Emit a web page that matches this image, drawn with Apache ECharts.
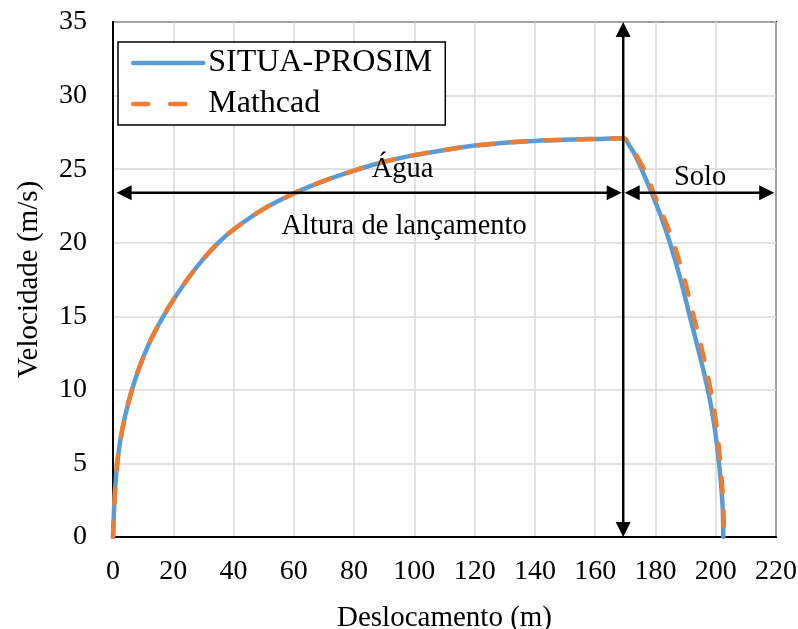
<!DOCTYPE html>
<html>
<head>
<meta charset="utf-8">
<script src="https://cdn.jsdelivr.net/npm/echarts@6/dist/echarts.min.js"></script>
<style>
html,body{margin:0;padding:0;background:#fff}
#chart{width:798px;height:629px}
</style>
</head>
<body>
<div id="chart"></div>
<script>
// Displacement (m) and velocity (m/s) – SITUA-PROSIM simulation
const distSitua = [0, 0.5, 1.2, 2.3, 4, 6, 8, 10, 13, 16.7, 20, 25, 30, 35, 40, 50, 60, 70, 80, 90, 100, 110, 120, 130, 140, 150, 160, 169.3,
                   171.5, 173.5, 175.4, 178.7, 181.8, 184.8, 188.2, 191.4, 194.5, 197.4, 199.6, 201.1, 202.0, 202.4, 202.5];
const velSitua  = [0, 2.5, 4.6, 6.4, 8.2, 9.8, 11.1, 12.2, 13.6, 15.0, 16.1, 17.6, 18.9, 20.0, 20.9, 22.3, 23.35, 24.2, 24.9, 25.5, 25.95, 26.3, 26.6, 26.8, 26.92, 27.0, 27.05, 27.1,
                   26.55, 25.85, 25.0, 23.4, 21.8, 20.0, 17.6, 15.0, 12.5, 10.0, 7.5, 5.0, 3.0, 1.5, 0];

// Displacement (m) and velocity (m/s) – Mathcad solution
const distMathcad = [0, 0.5, 1.2, 2.3, 4, 6, 8, 10, 13, 16.7, 20, 25, 30, 35, 40, 50, 60, 70, 80, 90, 100, 110, 120, 130, 140, 150, 160, 169.3,
                     172, 174.2, 176.5, 179.2, 182.6, 186, 189.5, 192.7, 195.7, 198.3, 200.3, 201.5, 202.3, 202.6, 202.7];
const velMathcad  = [0, 2.5, 4.6, 6.4, 8.2, 9.8, 11.1, 12.2, 13.6, 15.0, 16.1, 17.6, 18.9, 20.0, 20.9, 22.3, 23.35, 24.2, 24.9, 25.5, 25.95, 26.3, 26.6, 26.8, 26.92, 27.0, 27.05, 27.1,
                     26.45, 25.75, 24.85, 23.5, 21.8, 20.0, 17.6, 15.0, 12.5, 10.0, 7.5, 5.0, 3.0, 1.5, 0];

const seriesNames = ['SITUA-PROSIM', 'Mathcad'];

// Double-headed dimension arrows: [x1, y1, x2, y2] in data units
const arrows = [
  [1.2, 23.4, 168.8, 23.4],
  [169.8, 23.4, 219.4, 23.4],
  [169.3, 0, 169.3, 35]
];

// Annotations: [text, x, y]
const notes = [
  ['Água', 96.1, 24.95],
  ['Altura de lançamento', 96.6, 21.1],
  ['Solo', 194.8, 24.45]
];

const FONT = '"Liberation Serif", "Times New Roman", serif';
const BLUE = '#5B9BD5';
const ORANGE = '#ED7D31';

const zip = (xs, ys) => xs.map((x, i) => [x, ys[i]]);

const chart = echarts.init(document.getElementById('chart'), null, {renderer: 'canvas'});

chart.setOption({
  backgroundColor: '#fff',
  animation: false,
  grid: {
    left: 113, right: 22, top: 22, bottom: 92,
    containLabel: false, outerBoundsMode: 'none',
    show: true, borderColor: '#000', borderWidth: 2, backgroundColor: 'transparent'
  },
  legend: {
    data: [
      {name: seriesNames[0], lineStyle: {color: BLUE, width: 4.5, type: 'solid', cap: 'round'}},
      {name: seriesNames[1], lineStyle: {color: ORANGE, width: 4.5, type: [15, 22], cap: 'round'}}
    ],
    orient: 'vertical',
    left: 118, top: 42,
    backgroundColor: '#fff',
    borderColor: '#000', borderWidth: 1.5,
    padding: [5, 13, 5, 13],
    itemWidth: 70, itemHeight: 10, itemGap: 9,
    itemStyle: {opacity: 0},
    textStyle: {fontFamily: FONT, fontSize: 32, color: '#000'}
  },
  xAxis: {
    type: 'value', min: 0, max: 220, interval: 20,
    name: 'Deslocamento (m)', nameLocation: 'middle', nameGap: 67,
    nameTextStyle: {fontFamily: FONT, fontSize: 29, color: '#000'},
    axisLine: {lineStyle: {color: '#000', width: 2}},
    axisTick: {show: false},
    axisLabel: {fontFamily: FONT, fontSize: 28, color: '#000', margin: 21},
    splitLine: {lineStyle: {color: '#d9d9d9', width: 1.5}}
  },
  yAxis: {
    type: 'value', min: 0, max: 35, interval: 5,
    name: 'Velocidade (m/s)', nameLocation: 'middle', nameGap: 69,
    nameTextStyle: {fontFamily: FONT, fontSize: 29, color: '#000'},
    axisLine: {lineStyle: {color: '#000', width: 2}},
    axisTick: {show: false},
    axisLabel: {fontFamily: FONT, fontSize: 28, color: '#000', margin: 26},
    splitLine: {lineStyle: {color: '#d9d9d9', width: 1.5}}
  },
  series: [
    {
      name: seriesNames[0], type: 'line', data: zip(distSitua, velSitua),
      symbol: 'none', smooth: 0.35,
      lineStyle: {color: BLUE, width: 4.5, cap: 'round', join: 'round'},
      itemStyle: {color: BLUE}, z: 3
    },
    {
      name: seriesNames[1], type: 'line', data: zip(distMathcad, velMathcad),
      symbol: 'none', smooth: 0.35,
      lineStyle: {color: ORANGE, width: 4.5, type: [15, 18.5], cap: 'round', join: 'round'},
      itemStyle: {color: ORANGE}, z: 4
    },
    {
      type: 'custom', name: 'arrows', silent: true, clip: false, z: 5,
      data: arrows,
      encode: {x: [0, 2], y: [1, 3]},
      renderItem: function (params, api) {
        const a = api.coord([api.value(0), api.value(1)]);
        const b = api.coord([api.value(2), api.value(3)]);
        const dx = b[0] - a[0], dy = b[1] - a[1];
        const len = Math.sqrt(dx * dx + dy * dy);
        const ux = dx / len, uy = dy / len;
        const nx = -uy, ny = ux;
        const L = 15, W = 7.5;
        const head = (tip, s) => [
          tip,
          [tip[0] - s * ux * L + nx * W, tip[1] - s * uy * L + ny * W],
          [tip[0] - s * ux * L - nx * W, tip[1] - s * uy * L - ny * W]
        ];
        return {
          type: 'group',
          children: [
            {type: 'line', shape: {x1: a[0] + ux * 8, y1: a[1] + uy * 8, x2: b[0] - ux * 8, y2: b[1] - uy * 8},
             style: {stroke: '#000', lineWidth: 2.5}},
            {type: 'polygon', shape: {points: head(b, 1)}, style: {fill: '#000'}},
            {type: 'polygon', shape: {points: head(a, -1)}, style: {fill: '#000'}}
          ]
        };
      }
    },
    {
      type: 'custom', name: 'notes', silent: true, clip: false, z: 6,
      data: notes.map(n => [n[1], n[2], n[0]]),
      dimensions: ['x', 'y', 'text'],
      encode: {x: 0, y: 1},
      renderItem: function (params, api) {
        const p = api.coord([api.value(0), api.value(1)]);
        return {
          type: 'text', x: p[0], y: p[1],
          style: {text: notes[params.dataIndex][0], font: '28.5px ' + FONT,
                  fill: '#000', align: 'center', verticalAlign: 'middle'}
        };
      }
    }
  ]
});
</script>
</body>
</html>
